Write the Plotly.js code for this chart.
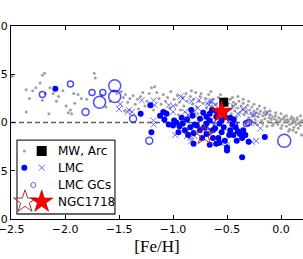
<!DOCTYPE html>
<html><head><meta charset="utf-8">
<script src="https://cdn.plot.ly/plotly-3.0.1.min.js"></script>
<style>html,body{margin:0;padding:0;background:#fff}#c{width:303px;height:259px}</style>
</head><body><div id="c"></div>
<script>
// MW, Arc (grey dots)
const mwFe = [-2.49,-2.36,-2.33,-2.36,-2.30,-2.27,-2.23,-2.21,-2.19,-2.21,-2.18,-2.15,-2.14,-2.11,-2.08,-2.06,-2.02,-1.99,-1.97,-1.95,-1.94,-1.92,-1.91,-1.88,-1.85,-1.73,-1.72,-1.80,-1.66,-1.62,-1.58,-1.55,-1.52,
 -1.48,-1.46,-1.44,-1.42,-1.40,-1.37,-1.35,-1.33,-1.30,-1.28,-1.26,-1.24,-1.22,-1.20,-1.17,-1.15,-1.13,-1.11,-1.09,-1.07,-1.05,-1.03,-1.02,-1.45,-1.32,-1.18,-1.10,
 -0.99,-0.97,-0.96,-0.94,-0.93,-0.91,-0.90,-0.88,-0.87,-0.85,-0.84,-0.82,-0.81,-0.79,-0.78,-0.76,-0.75,-0.73,-0.72,-0.70,-0.69,-0.67,-0.66,-0.64,-0.63,-0.61,-0.60,-0.58,-0.57,-0.55,-0.54,-0.52,-0.51,-0.95,-0.86,-0.77,-0.68,-0.59,-0.53,-0.83,-0.74,-0.65,-0.56,
 -0.49,-0.48,-0.47,-0.46,-0.45,-0.44,-0.43,-0.42,-0.41,-0.40,-0.39,-0.38,-0.37,-0.36,-0.35,-0.34,-0.33,-0.32,-0.31,-0.30,-0.29,-0.28,-0.27,-0.26,-0.25,-0.24,-0.23,-0.22,-0.21,-0.20,-0.19,-0.18,-0.17,-0.16,-0.15,-0.14,-0.13,-0.12,-0.11,-0.10,-0.09,-0.08,-0.07,-0.06,-0.05,-0.04,-0.03,-0.02,-0.01,0.00,0.01,0.02,0.03,0.04,0.05,0.06,0.07,0.08,0.09,0.10,0.11,0.12,0.13,0.14,0.15,0.16,0.17,0.18,0.19,
 -0.45,-0.40,-0.35,-0.30,-0.25,-0.20,-0.15,-0.10,-0.05,0.00,0.05,0.10,0.15,-0.42,-0.33,-0.22,-0.13,0.00,0.08,0.16,-0.28,-0.17,-0.08,0.03,0.12,0.18,0.07,0.14,0.19,0.11];
const mwAFe = [0.48,0.34,0.25,0.11,0.33,0.36,0.41,0.49,0.51,0.23,0.30,0.09,0.36,0.30,0.22,0.27,0.33,0.17,0.10,0.13,0.09,0.30,0.20,0.29,0.25,0.51,0.46,0.24,0.28,0.16,0.22,0.33,0.30,
 0.32,0.26,0.29,0.21,0.25,0.28,0.19,0.24,0.27,0.31,0.17,0.22,0.30,0.36,0.37,0.31,0.25,0.19,0.29,0.22,0.26,0.15,0.32,0.12,0.14,0.13,0.09,
 0.24,0.18,0.28,0.21,0.13,0.26,0.17,0.30,0.22,0.14,0.27,0.19,0.24,0.31,0.16,0.22,0.27,0.12,0.20,0.25,0.15,0.29,0.21,0.17,0.24,0.11,0.19,0.26,0.14,0.22,0.17,0.25,0.10,0.08,0.06,0.09,0.07,0.05,0.08,0.33,0.30,0.32,0.29,
 0.20,0.14,0.24,0.09,0.17,0.21,0.12,0.19,0.06,0.15,0.22,0.10,0.17,0.13,0.20,0.08,0.15,0.11,0.18,0.05,0.13,0.09,0.16,0.07,0.12,0.03,0.10,0.14,0.06,0.09,0.12,0.02,0.07,0.10,0.04,0.08,0.11,0.01,0.05,0.08,0.03,0.06,-0.01,0.04,0.07,0.02,-0.02,0.05,0.01,0.03,-0.03,0.04,0.00,0.02,-0.04,0.03,0.01,-0.02,0.04,-0.01,0.02,-0.05,0.01,-0.02,0.03,-0.01,0.00,-0.03,0.02,
 0.26,0.27,0.24,0.22,0.19,0.17,0.15,0.12,0.10,0.09,0.07,0.06,0.05,0.03,0.00,-0.02,-0.04,-0.06,-0.07,-0.06,0.02,-0.01,-0.03,0.06,0.04,0.07,-0.09,-0.10,-0.13,-0.08];

// LMC (filled blue dots)
const lmcFe = [-2.09,-1.21,-1.30,-1.12,-1.09,-1.08,-1.20,-1.06,-1.00,-0.99,-0.94,-0.91,-0.89,-0.87,-0.86,-0.83,-0.82,-0.81,-0.81,-0.80,-0.75,-0.75,-0.73,-0.72,-0.69,-0.69,-0.69,-0.66,-0.64,-0.63,-0.63,-0.60,-0.60,-0.58,-0.57,-0.57,-0.52,-0.50,-0.50,-0.47,-0.47,-0.44,-0.44,-0.41,-0.38,-0.36,-0.36,-0.33,-0.30,-0.15,-0.97,-0.92,-0.78,-0.66,-0.55,-0.53,-0.48,-0.42,-0.40,-0.84,-0.71,-0.61,-0.55,-0.66,-0.60,-0.52,-0.45,-0.35,-1.04,-0.95];
const lmcAFe = [0.35,0.18,0.09,0.07,0.11,0.03,-0.10,0.09,-0.03,0.02,-0.04,-0.01,-0.08,0.03,-0.13,0.13,0.07,-0.11,-0.22,-0.02,0.04,-0.08,-0.16,0.10,0.06,-0.12,-0.01,-0.23,0.13,-0.08,-0.16,0.06,-0.22,-0.16,-0.01,-0.21,-0.19,-0.26,-0.29,0.05,-0.08,0.03,-0.13,-0.19,-0.12,-0.16,-0.36,-0.13,-0.20,-0.15,0.00,0.05,-0.03,0.02,0.02,-0.05,-0.13,-0.05,-0.09,-0.05,-0.05,-0.06,-0.10,0.09,0.12,0.06,-0.02,-0.08,-0.02,-0.10];

// LMC (crosses)
const lmc2Fe = [-1.50,-1.49,-1.41,-1.38,-1.42,-1.29,-1.18,-1.17,-1.18,-1.18,-1.08,-1.04,-1.00,-1.00,-0.93,-0.91,-0.89,-0.89,-0.86,-0.83,-0.81,-0.81,-0.77,-0.76,-0.68,-0.67,-0.66,-0.64,-0.61,-0.44,-0.40,-0.35,-0.33,-0.26,-0.24,-0.24,-0.19,-0.13,-0.98,-0.87,-0.87,-0.84,-0.83,-0.80,-0.56,-0.50,-0.50,-0.27,-0.23,-0.70,-0.62,-0.58,-0.52,-0.48,-0.75];
const lmc2AFe = [0.14,0.19,0.13,0.11,0.11,0.23,0.23,0.18,0.02,-0.02,0.10,0.18,0.17,0.11,0.27,0.25,0.11,0.03,0.08,0.22,0.10,0.08,0.15,0.23,0.20,0.18,0.22,0.22,0.18,0.17,0.09,0.14,0.11,0.08,0.08,-0.01,-0.06,0.10,-0.13,-0.08,-0.14,-0.16,-0.19,-0.14,-0.21,-0.23,-0.26,-0.20,-0.19,0.05,-0.03,0.08,0.12,0.02,-0.05];

// LMC GCs (open circles) and their marker sizes
const gcFe = [-2.21,-1.95,-1.75,-1.65,-1.68,-1.54,-1.54,-1.81,-1.37,-1.22,0.03,-0.30,-0.43,-0.35,-0.32,-0.65,-0.68];
const gcAFe = [0.29,0.40,0.31,0.31,0.21,0.38,0.27,0.11,0.04,-0.19,-0.19,0.00,-0.02,-0.13,-0.01,-0.03,-0.10];
const gcSize = [6,6,6,6,12,12,12,7,7,7,13,6,6,6,6,7,6];

// Arc, NGC1718
const arcFe = [-0.53], arcAFe = [0.21];
const ngcFe = [-0.55], ngcAFe = [0.11];
const ngcOpenFe = [-0.71], ngcOpenAFe = [-0.13];

const legendLabels = ["MW, Arc","LMC","LMC GCs","NGC1718"];

const blue = "#0000ff";
const traces = [
 {x: mwFe, y: mwAFe, type:"scatter", mode:"markers", marker:{size:3, color:"#a0a0a0", symbol:"circle"}},
 {x: lmc2Fe, y: lmc2AFe, type:"scatter", mode:"markers", marker:{size:6, symbol:"x-thin-open", color:"rgba(60,60,255,0.75)", line:{width:1, color:"rgba(60,60,255,0.75)"}}},
 {x: lmcFe, y: lmcAFe, type:"scatter", mode:"markers", marker:{size:6, color:blue, symbol:"circle"}},
 {x: gcFe, y: gcAFe, type:"scatter", mode:"markers", marker:{size:gcSize, symbol:"circle-open", color:blue, line:{width:1.5, color:blue}}},
 {x: arcFe, y: arcAFe, type:"scatter", mode:"markers", marker:{size:9, symbol:"square", color:"#000"}},
 {x: ngcOpenFe, y: ngcOpenAFe, type:"scatter", mode:"markers", marker:{size:15, symbol:"star-open", color:"#b03030", line:{width:1, color:"#b03030"}}},
 {x: ngcFe, y: ngcAFe, type:"scatter", mode:"markers", marker:{size:17, symbol:"star", color:"#ff0000", line:{width:0.5, color:"#800000"}}}
];

// legend built on an overlay axis measured in pixels from the plot's top-left corner
const rowY = [125, 141.7, 159, 175.7];
const lg = (x, y, marker) => ({x:[x], y:[y], xaxis:"x2", yaxis:"y2", type:"scatter", mode:"markers", marker, hoverinfo:"skip"});
traces.push(
 lg(13.3, rowY[0], {size:3, color:"#a0a0a0"}),
 lg(30.7, rowY[0], {size:10, symbol:"square", color:"#000"}),
 lg(13.3, rowY[1], {size:6, color:blue}),
 lg(30.7, rowY[1], {size:6, symbol:"x-thin-open", color:"rgba(60,60,255,0.75)", line:{width:1, color:"rgba(60,60,255,0.75)"}}),
 lg(22.3, rowY[2], {size:5, symbol:"circle-open", color:"rgba(60,60,255,0.8)", line:{width:1, color:"rgba(60,60,255,0.8)"}}),
 lg(14, rowY[3], {size:17, symbol:"star-open", color:"#b03030", line:{width:1, color:"#b03030"}}),
 lg(30.7, rowY[3], {size:17, symbol:"star", color:"#ff0000", line:{width:0.5, color:"#800000"}})
);

const annotations = legendLabels.map((t, i) => ({
 text: t, xref:"x2", yref:"y2", x:45, y:rowY[i], xanchor:"left", yanchor:"middle",
 showarrow:false, font:{family:"DejaVu Sans", size:12, color:"#000"}
}));

const axFont = {family:"DejaVu Sans", size:11, color:"#000"};
const layout = {
 width:303, height:259,
 margin:{l:11, r:0, t:26, b:40, pad:0},
 paper_bgcolor:"#fff", plot_bgcolor:"#fff",
 showlegend:false,
 xaxis:{range:[-2.5005, 0.2037], tickvals:[-2.5,-2.0,-1.5,-1.0,-0.5,0.0], tickformat:".1f",
   showgrid:false, zeroline:false, showline:true, linecolor:"#000", linewidth:1, mirror:"ticks",
   ticks:"inside", ticklen:4, tickcolor:"#000", tickfont:axFont, ticklabeloverflow:"allow",
   title:{text:"[Fe/H]", font:{family:"Liberation Serif", size:17, color:"#000"}, standoff:4}},
 yaxis:{range:[-1, 1], tickvals:[-1,-0.5,0,0.5,1], tickformat:".1f",
   showgrid:false, zeroline:false, showline:true, linecolor:"#000", linewidth:1, mirror:false,
   ticks:"inside", ticklen:4, tickcolor:"#000", tickfont:axFont, ticklabeloverflow:"allow"},
 xaxis2:{domain:[0,1], anchor:"y2", overlaying:"x", range:[0,292], visible:false, fixedrange:true},
 yaxis2:{domain:[0,1], anchor:"x2", overlaying:"y", range:[193,0], visible:false, fixedrange:true},
 shapes:[
  {type:"line", xref:"paper", yref:"y", x0:0, x1:1, y0:0, y1:0, layer:"below", line:{color:"#606060", width:1.5, dash:"5px,3px"}},
  {type:"rect", xref:"paper", yref:"paper", x0:0.0205, x1:0.356, y0:0.026, y1:0.409, layer:"below", fillcolor:"#fff", line:{color:"#333", width:1.3}}
 ],
 annotations
};
Plotly.newPlot("c", traces, layout, {staticPlot:true, displayModeBar:false});
</script></body></html>
